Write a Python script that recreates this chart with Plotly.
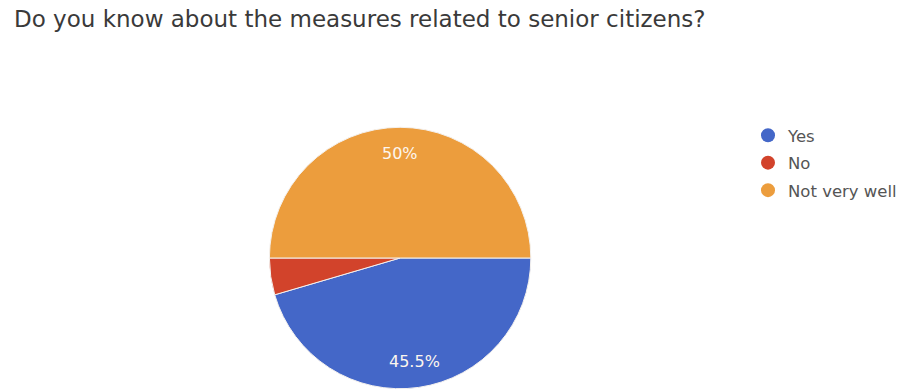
import math
import plotly.graph_objects as go

# Survey responses
question = "Do you know about the measures related to senior citizens?"
answers = ["Yes", "No", "Not very well"]
counts = [10, 1, 11]
colors = ["#4467c8", "#d2432b", "#ec9d3d"]

W, H = 902, 389
FONT = "DejaVu Sans"

# Pie placement (pixels): centre and radius
CX, CY, R = 401, 258, 131
START = 90          # first slice begins at 3 o'clock, runs clockwise
LABEL_R = 0.8       # label distance from centre, as a share of the radius
MIN_LABEL = 5.0     # slices under this percentage get no label

fig = go.Figure()

fig.add_trace(go.Pie(
    labels=answers,
    values=counts,
    sort=False,
    direction="clockwise",
    rotation=START,
    marker=dict(colors=colors, line=dict(color="#f4f1ee", width=1)),
    textinfo="none",
    showlegend=False,
    hoverinfo="label+percent",
    domain=dict(x=[(CX - R) / W, (CX + R) / W], y=[(H - CY - R) / H, (H - CY + R) / H]),
))

# Percentage labels placed on each slice's bisector
total = sum(counts)
acc = 0.0
for c in counts:
    pct = 100.0 * c / total
    mid = START + 360.0 * (acc + c / 2) / total
    acc += c
    if pct < MIN_LABEL:
        continue
    t = math.radians(mid)
    px = CX + LABEL_R * R * math.sin(t)
    py = CY - LABEL_R * R * math.cos(t)
    fig.add_annotation(
        x=px / W, y=1 - py / H, xref="paper", yref="paper",
        text=f"{round(pct, 1):g}%", showarrow=False,
        xanchor="center", yanchor="middle",
        font=dict(family=FONT, size=16, color="#fdf6ee"),
    )

# Round legend markers, one per answer
for name, col in zip(answers, colors):
    fig.add_trace(go.Scatter(
        x=[None], y=[None], mode="markers", name=name, legendgroup=name,
        marker=dict(symbol="circle", size=14, color=col),
    ))

fig.update_layout(
    width=W, height=H,
    margin=dict(l=0, r=0, t=0, b=0),
    paper_bgcolor="white", plot_bgcolor="white",
    xaxis=dict(visible=False), yaxis=dict(visible=False),
    title=dict(
        text=question, x=14 / W, xanchor="left", xref="container",
        y=1 - 19 / H, yanchor="middle", yref="container",
        font=dict(family=FONT, size=23, color="#3a3a3a"),
    ),
    legend=dict(
        x=750 / W, y=1 - 118 / H, xanchor="left", yanchor="top",
        font=dict(family=FONT, size=16.5, color="#555555"),
        bgcolor="rgba(0,0,0,0)", itemwidth=30, tracegroupgap=3,
    ),
)

fig.write_html("out.html")
